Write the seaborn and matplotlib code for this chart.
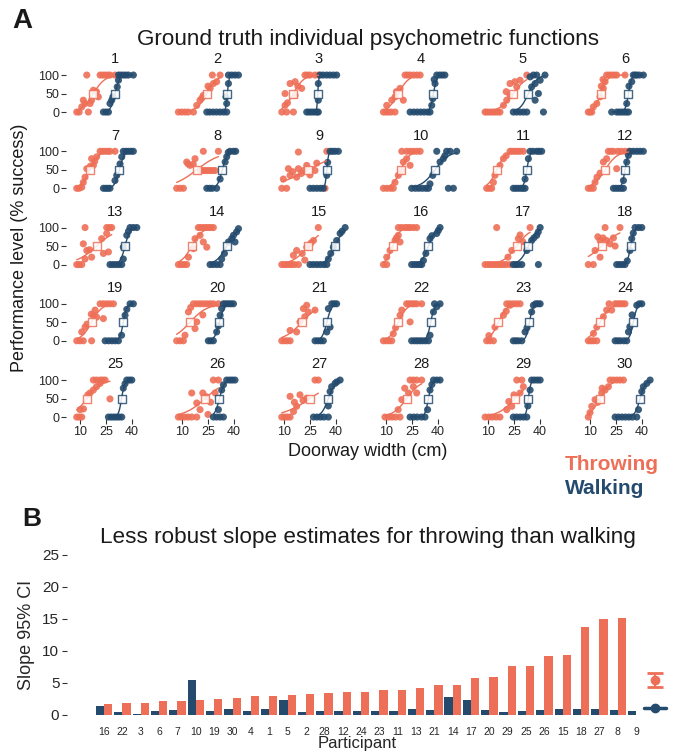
import numpy as np
import pandas as pd
import matplotlib.pyplot as plt
import seaborn as sns
from matplotlib.lines import Line2D

ORANGE = "#EE6F57"
BLUE = "#244B6E"
PALETTE = {"Throwing": ORANGE, "Walking": BLUE}

# ------------------------------------------------------------------------------
# Panel A data: observed points per participant (doorway width cm, % success)
# ------------------------------------------------------------------------------
throw_pts = {
    1: [(8.1, 0), (9.5, 0), (14.8, 0), (11, 14), (12.9, 23), (15.8, 23), (16.7, 32), (11.9, 32), (20.6, 41), (17.7, 59), (19.5, 55), (13.9, 100), (21.6, 100), (23, 100), (24.5, 100), (26, 100), (27.3, 100), (30.2, 100)],
    2: [(7.9, 0), (9.8, 0), (11.7, 0), (13.6, 0), (16.6, 0), (18.5, 18), (20.4, 32), (22.3, 45), (21.5, 38), (26.2, 64), (25, 70), (28.1, 77), (30, 82), (32, 100), (27.5, 100)],
    3: [(8.7, 0), (11.5, 0), (15.4, 0), (10.6, 18), (12, 25), (16.4, 45), (10.6, 50), (13.5, 77), (16.4, 82), (20.2, 64), (18, 70), (22.1, 100), (23.5, 100), (25, 100), (27.9, 100), (29.8, 100)],
    4: [(8.5, 0), (10, 0), (11.4, 0), (13, 0), (15.2, 0), (10.4, 18), (13.3, 32), (15.2, 41), (20, 32), (18.1, 64), (16, 55), (21, 100), (22.5, 100), (24, 100), (26, 100), (27.9, 100), (29.7, 100)],
    5: [(8.3, 0), (9.5, 0), (11, 0), (12.5, 0), (13.9, 0), (15.5, 0), (16.9, 0), (18.9, 18), (20.8, 32), (22.7, 45), (26.6, 68), (22.7, 77), (28.5, 86), (20.5, 55), (25.5, 82), (32.4, 100)],
    6: [(9, 0), (10, 0), (11, 0), (11.9, 14), (13.9, 23), (15.8, 41), (17.7, 64), (16.5, 70), (18.7, 82), (17.5, 88), (19.6, 100), (21, 100), (22.5, 100), (24, 100), (25.4, 100), (30.2, 100)],
    7: [(8.1, 0), (9.5, 0), (11, 3), (11.9, 16), (12.9, 30), (13.9, 53), (16, 60), (17.7, 62), (16.7, 80), (19.6, 85), (18.5, 73), (21.6, 100), (23, 100), (24.5, 100), (26, 100), (27.3, 100), (30.2, 100)],
    8: [(6.9, 0), (8.9, 0), (10.8, 0), (20.4, 48), (22, 48), (23.3, 48), (24.8, 48), (26.2, 48), (27.7, 48), (29.1, 48), (12.7, 71), (14.6, 62), (16.5, 65), (17.5, 80), (13.5, 66), (22.3, 100), (31, 100)],
    9: [(8.7, 0), (11.5, 0), (9.6, 25), (13.5, 35), (17.3, 30), (12.5, 53), (18.3, 53), (21.2, 48), (23.1, 62), (25, 36), (27.9, 48), (18.3, 98), (28.9, 68), (34.7, 100), (33.7, 0), (15, 45), (20, 40)],
    10: [(8.5, 0), (10.5, 0), (12.5, 0), (14.2, 0), (15.2, 16), (17.1, 35), (19.1, 48), (20, 71), (21.9, 80), (23.9, 62), (19.1, 100), (21.9, 100), (23.9, 100), (25.8, 100), (27.7, 100), (29.7, 100)],
    11: [(9.2, 0), (10.7, 0), (12.1, 0), (13.1, 16), (14, 35), (16.9, 62), (18.9, 80), (20.5, 88), (22.7, 100), (24, 100), (25.6, 100), (27, 100), (28.5, 100), (30.4, 100)],
    12: [(9, 0), (10.5, 0), (11.9, 0), (12.9, 16), (14, 30), (15.8, 41), (17.7, 71), (19.6, 80), (25.4, 53), (20.6, 100), (22, 100), (23.5, 100), (26, 100), (28, 100), (30.2, 100), (32.2, 100)],
    13: [(8.1, 0), (9.5, 0), (11, 0), (12.9, 15), (16.7, 20), (11.9, 56), (13.9, 38), (15.5, 40), (22.5, 70), (26.4, 34), (23.5, 30), (12.9, 100), (25.4, 100), (27, 100), (28.3, 100), (25.4, 84)],
    14: [(7.9, 0), (9.5, 0), (11.1, 0), (12.7, 0), (13.7, 20), (16.6, 43), (17.5, 70), (20.4, 79), (22.3, 61), (24.3, 47), (19.4, 100), (20.8, 100), (22.3, 100), (23.7, 100), (25.2, 100), (26.6, 100), (28.1, 100)],
    15: [(8.7, 0), (10.1, 0), (11.5, 0), (13, 0), (14.4, 0), (16, 0), (18.3, 0), (15.4, 25), (17.3, 38), (20.5, 30), (23.1, 47), (27, 65), (25.5, 58), (29.8, 100), (22, 12)],
    16: [(8.5, 0), (10.4, 0), (10.4, 20), (12.3, 38), (15.2, 65), (17.1, 79), (18.1, 61), (16, 72), (17.1, 100), (19, 100), (21, 100), (22.5, 100), (23.9, 100), (25.8, 100), (27.7, 100)],
    17: [(8.3, 0), (10, 0), (11.5, 0), (13, 0), (14.5, 0), (16, 0), (17.5, 0), (19, 0), (20.5, 0), (22.7, 0), (15, 100), (21.5, 20), (23.7, 38), (27.5, 70), (30, 62), (28.5, 80), (34.3, 100)],
    18: [(9, 0), (11.9, 0), (15.8, 20), (12.9, 38), (15.8, 65), (14.5, 75), (17.5, 72), (19.5, 65), (21.6, 56), (24.5, 50), (18.7, 100), (27.3, 100), (23.5, 72)],
    19: [(8.1, 0), (10, 0), (11.9, 0), (16.7, 0), (11, 24), (12.9, 37), (14, 45), (17.7, 69), (19.6, 64), (18.7, 83), (23.5, 60), (21.6, 100), (23.5, 100), (25.4, 100), (27.3, 100), (29.3, 100), (16.5, 72)],
    20: [(6.9, 0), (8.9, 0), (10.8, 0), (11.7, 15), (17.5, 33), (18.5, 51), (13.7, 78), (15, 90), (22, 70), (16.6, 100), (18.5, 100), (20.4, 100), (22.3, 100), (24.3, 100), (26.2, 100), (28.1, 100), (31, 100)],
    21: [(8.7, 0), (10.3, 0), (11.9, 0), (13.5, 0), (13.5, 28), (17.3, 24), (19.2, 51), (24, 78), (21.2, 87), (23.1, 96), (27.9, 83), (22, 65)],
    22: [(8.5, 0), (10.1, 0), (11.7, 0), (13.3, 0), (14.2, 19), (15.5, 35), (18.1, 69), (19.1, 83), (23.9, 51), (21.9, 100), (23.3, 100), (24.8, 100), (26.2, 100), (27.7, 100), (30.6, 100)],
    23: [(9.2, 0), (11, 0), (13.1, 0), (10.5, 14), (14, 37), (18.9, 69), (20.5, 80), (22.7, 96), (20.8, 100), (22.7, 100), (24.6, 100), (26.5, 100), (28.5, 100)],
    24: [(9, 0), (10.5, 0), (12, 0), (13.9, 0), (12, 20), (13.9, 37), (17.7, 65), (19.6, 83), (22.5, 83), (24.5, 100), (26, 100), (27.3, 100), (28.7, 100), (30.2, 100), (21, 100)],
    25: [(8.1, 0), (9.5, 0), (11, 0), (10, 20), (12, 22), (15.8, 65), (17.7, 73), (19.5, 82), (21.6, 91), (27.3, 49), (17.7, 100), (19.5, 100), (21.6, 100), (23, 100), (24.5, 100), (14.5, 60)],
    26: [(7.9, 0), (9.5, 0), (11.5, 0), (13.5, 0), (15.6, 0), (18.5, 0), (15.6, 65), (18.5, 38), (20.4, 20), (22, 65), (24, 55), (28.1, 100), (31, 100), (29.1, 65), (25, 7), (26.5, 40)],
    27: [(8.7, 0), (10.3, 0), (11.9, 0), (13.5, 0), (15.5, 15), (17.3, 29), (13.5, 56), (19.2, 60), (23.1, 51), (21, 45), (27.9, 100), (29.8, 100), (16, 40)],
    28: [(9.4, 0), (11.5, 0), (13.5, 0), (15.5, 0), (18.1, 0), (17, 20), (19.1, 47), (20.8, 78), (23, 65), (25.8, 82), (27.7, 65), (23.9, 100), (25.8, 100), (27.7, 100), (30.6, 100)],
    29: [(8.3, 0), (10.5, 0), (12.5, 0), (14.7, 0), (16.9, 0), (20.8, 20), (23.7, 29), (22, 42), (28.5, 65), (30.4, 82), (26.6, 100), (29.5, 100), (25, 60)],
    30: [(9, 0), (10, 12), (11, 29), (12.9, 47), (14.5, 40), (16.7, 65), (18.7, 73), (17, 78), (20.6, 82), (21.6, 100), (23.5, 100), (25.4, 100), (27.3, 100), (29.3, 100)],
}

walk_pts = {
    1: [(23.5, 0), (25, 0), (26.4, 0), (27.3, 23), (28.3, 32), (29, 41), (31.5, 68), (32.2, 86), (32.2, 100), (33.5, 100), (35, 100), (36.5, 100), (38, 100), (40.8, 100)],
    2: [(24.3, 0), (26, 0), (28, 0), (30, 0), (32, 0), (34, 0), (35.8, 0), (35.8, 23), (35.4, 41), (36.8, 77), (36.8, 100), (38.7, 100), (40.6, 100), (42.6, 100)],
    3: [(23.1, 0), (24.5, 0), (26, 0), (27.5, 0), (29, 0), (29.8, 0), (29.8, 32), (29.8, 77), (30.8, 100), (32.5, 100), (34.6, 100), (36.5, 100), (38.5, 100), (40.4, 100)],
    4: [(23.9, 0), (26, 0), (28, 0), (30, 0), (32, 0), (34, 0), (35.4, 0), (36.4, 18), (37, 36), (38.3, 77), (37.8, 88), (39.3, 100), (41, 100), (42.5, 100), (44, 100)],
    5: [(24.6, 0), (26.5, 0), (28.5, 0), (30.5, 0), (32.4, 0), (42, 0), (37.2, 32), (39.1, 50), (35.2, 68), (37.2, 77), (40.1, 86), (34.3, 95), (36.2, 100), (38.1, 100), (42.9, 100)],
    6: [(22.5, 0), (25.4, 0), (26.8, 0), (28.2, 0), (29.6, 0), (31, 0), (32.2, 0), (31.2, 23), (32.5, 70), (34.1, 82), (35, 100), (36, 100), (37, 100), (38.5, 100), (40.8, 100)],
    7: [(23.5, 0), (24.8, 0), (26, 0), (27.3, 0), (30.2, 21), (31.2, 35), (33.1, 66), (34.1, 85), (35, 100), (36.5, 100), (37.9, 100), (39.4, 100), (40.8, 100)],
    8: [(24.3, 0), (26, 0), (27.5, 0), (30, 0), (32, 25), (34.9, 71), (35.8, 85), (36.7, 97), (37.7, 100), (39.7, 100), (41, 100)],
    9: [(25, 0), (27, 0), (29, 0), (31, 0), (32.7, 0), (34.7, 35), (35.2, 70), (36.6, 100), (38, 100), (39.5, 100), (41.4, 100)],
    10: [(24.8, 0), (27, 0), (29, 0), (31, 0), (33, 0), (34.5, 0), (35.4, 12), (46, 0), (48.9, 0), (37, 35), (41.2, 71), (43.1, 80), (44, 88), (39.3, 100), (45, 100), (47, 100), (50.8, 100)],
    11: [(24.6, 0), (26, 0), (27.5, 0), (29, 0), (30.2, 0), (31.4, 0), (31.4, 25), (33.3, 80), (34.3, 100), (36, 100), (38.1, 100), (39.5, 100), (41, 100)],
    12: [(23.5, 0), (25, 0), (26.5, 0), (28, 0), (29.3, 0), (29.3, 21), (31.2, 71), (32.2, 89), (33.1, 100), (35, 100), (37, 100), (38.9, 100), (40.8, 100)],
    13: [(27.3, 0), (29, 0), (30.7, 0), (32.4, 0), (34.1, 0), (35, 15), (35, 47), (37, 79), (38, 90), (38.9, 100), (40.8, 100), (42.8, 100)],
    14: [(26.2, 0), (28, 0), (30, 0), (32, 0), (32.9, 15), (34.5, 30), (36.8, 61), (38.7, 70), (40.6, 61), (39.7, 79), (41.5, 88), (42.6, 97)],
    15: [(25, 0), (27, 0), (29, 0), (31, 0), (33, 0), (34.7, 0), (35.6, 15), (37, 30), (38.5, 47), (40.4, 65), (42.4, 84), (43.5, 90), (45.3, 100)],
    16: [(24.8, 0), (26.5, 0), (28, 0), (29.5, 0), (30.6, 0), (31.6, 11), (33, 30), (35.4, 70), (36.5, 78), (39.3, 84), (40.2, 92), (41.2, 100)],
    17: [(24.6, 0), (26, 0), (27.5, 0), (29.5, 0), (39.1, 0), (32.4, 38), (35.2, 65), (36.5, 72), (38.1, 79), (39, 88), (40.1, 100)],
    18: [(25.4, 0), (27, 0), (28.6, 0), (30.2, 0), (31.5, 10), (33.1, 38), (34.1, 70), (35, 85), (36, 100), (38, 100), (39.9, 100)],
    19: [(24.5, 0), (26.5, 0), (28.4, 0), (30.3, 0), (32.2, 0), (34, 15), (36, 69), (37, 85), (38.9, 100), (40.8, 100)],
    20: [(25.2, 0), (26.6, 0), (28.1, 0), (30, 24), (31, 40), (32, 69), (32.9, 87), (33.9, 100), (35.3, 100), (36.8, 100), (38.2, 100), (39.7, 100)],
    21: [(27.9, 0), (29.5, 0), (31.1, 0), (32.7, 0), (34.7, 24), (36.6, 37), (35.6, 87), (37.6, 100), (39, 100), (40.4, 100)],
    22: [(24.8, 0), (26.5, 0), (28, 0), (29.5, 0), (31, 0), (32.7, 0), (34.5, 0), (35.4, 15), (37.4, 78), (39.3, 92), (41.2, 100), (38, 100)],
    23: [(24.6, 0), (26, 0), (27.5, 0), (29.5, 0), (31.4, 24), (32.5, 35), (35.2, 78), (36.2, 96), (37.5, 100), (38.8, 100), (40.1, 100)],
    24: [(24.5, 0), (26, 0), (27.5, 0), (29.5, 0), (31.2, 0), (32.2, 24), (33, 38), (34.3, 70), (37, 96), (38.4, 100), (39.9, 100)],
    25: [(26.4, 0), (28, 0), (29.5, 0), (31, 0), (32.5, 0), (34.1, 0), (35, 78), (36, 90), (37, 100), (38.5, 100), (39.9, 100)],
    26: [(28.1, 0), (30, 0), (32, 0), (33.9, 0), (31, 20), (32.9, 73), (33.9, 87), (35.8, 100), (37.5, 100), (39, 100), (40.6, 100)],
    27: [(27, 0), (29, 0), (31, 0), (33, 0), (35.6, 0), (35.6, 30), (36.6, 69), (37.5, 82), (39.5, 91), (40.5, 95), (42.4, 100)],
    28: [(23.9, 0), (26, 0), (28, 0), (30.5, 0), (32.5, 0), (34, 20), (35.4, 73), (36.5, 88), (37.4, 100), (39.3, 100), (41.2, 100)],
    29: [(24.6, 0), (26.5, 0), (28.5, 0), (30.5, 0), (32.4, 0), (33, 30), (34.3, 73), (35.2, 100), (36.8, 100), (38.5, 100), (40.1, 100)],
    30: [(24.5, 0), (26.5, 0), (28.5, 0), (30.5, 0), (32.5, 0), (34.5, 0), (37, 0), (38, 20), (39.9, 69), (40.8, 82), (42.8, 91), (44.7, 100)],
}

# fitted psychometric functions: (threshold cm, spread cm)
throw_fit = {
    1: (17.7, 3.4), 2: (24.3, 3.0), 3: (15.4, 3.0), 4: (17.1, 3.0), 5: (24.6, 4.0), 6: (16.2, 2.0),
    7: (15.8, 2.5), 8: (18.5, 7.0), 9: (24.0, 10.0), 10: (18.5, 2.5), 11: (15.0, 2.5), 12: (18.7, 3.5),
    13: (19.6, 6.0), 14: (15.6, 3.0), 15: (24.0, 4.5), 16: (13.9, 2.0), 17: (26.6, 4.0), 18: (16.7, 6.0),
    19: (16.7, 3.0), 20: (14.6, 5.0), 21: (20.2, 5.0), 22: (17.1, 2.5), 23: (16.0, 2.5), 24: (15.8, 3.0),
    25: (13.9, 4.0), 26: (23.3, 6.0), 27: (25.0, 8.0), 28: (21.9, 4.0), 29: (25.6, 5.0), 30: (15.8, 3.0),
}
walk_fit = {
    1: (30.2, 1.3), 2: (36.2, 0.5), 3: (29.5, 0.3), 4: (37.4, 1.0), 5: (33.3, 2.5), 6: (32.2, 0.9),
    7: (32.7, 1.4), 8: (33.3, 1.4), 9: (34.7, 0.5), 10: (38.3, 4.0), 11: (32.4, 0.9), 12: (30.2, 0.9),
    13: (36.0, 1.4), 14: (35.8, 3.0), 15: (39.5, 2.5), 16: (34.5, 2.0), 17: (33.3, 2.5), 18: (33.5, 1.0),
    19: (35.0, 1.0), 20: (31.6, 1.4), 21: (34.7, 1.4), 22: (35.8, 1.1), 23: (33.9, 1.0), 24: (35.0, 1.1),
    25: (34.0, 0.9), 26: (31.6, 1.4), 27: (35.6, 2.0), 28: (34.5, 1.0), 29: (33.3, 0.7), 30: (38.9, 1.5),
}

# ------------------------------------------------------------------------------
# Panel B data: width of the slope 95% CI, participants sorted by throwing
# ------------------------------------------------------------------------------
participant_order = [16, 22, 3, 6, 7, 10, 19, 30, 4, 1, 5, 2, 28, 12, 24,
                     23, 11, 13, 21, 14, 17, 20, 29, 25, 26, 15, 18, 27, 8, 9]
walking_ci = [1.4, 0.45, 0.15, 0.65, 0.75, 5.4, 0.65, 0.9, 0.65, 0.9, 2.3, 0.45, 0.65, 0.6, 0.6,
              0.6, 0.6, 0.9, 0.75, 2.8, 2.35, 0.75, 0.45, 0.6, 0.75, 0.9, 0.9, 0.9, 0.75, 0.6]
throwing_ci = [1.7, 1.9, 1.9, 2.2, 2.2, 2.3, 2.5, 2.65, 2.95, 2.95, 3.1, 3.25, 3.4, 3.55, 3.55,
               3.9, 3.9, 4.2, 4.65, 4.65, 5.75, 5.9, 7.6, 7.6, 9.15, 9.45, 13.8, 15.0, 15.2, np.nan]

# ------------------------------------------------------------------------------
# Build long tables
# ------------------------------------------------------------------------------
rows = []
for task, pts in (("Throwing", throw_pts), ("Walking", walk_pts)):
    for pid, plist in pts.items():
        for x, y in plist:
            rows.append({"participant": pid, "task": task, "width": x, "success": y})
points = pd.DataFrame(rows)

curve_rows = []
for task, fits in (("Throwing", throw_fit), ("Walking", walk_fit)):
    for pid, (thr, spread) in fits.items():
        sub = points[(points.participant == pid) & (points.task == task)]
        xs = np.linspace(sub.width.min(), sub.width.max(), 80)
        ys = 100 / (1 + np.exp(-(xs - thr) / spread))
        for x, y in zip(xs, ys):
            curve_rows.append({"participant": pid, "task": task, "width": x, "success": y})
curves = pd.DataFrame(curve_rows)

bars = pd.DataFrame({
    "participant": [str(p) for p in participant_order] * 2,
    "task": ["Walking"] * 30 + ["Throwing"] * 30,
    "ci": walking_ci + throwing_ci,
})

# ------------------------------------------------------------------------------
# Figure
# ------------------------------------------------------------------------------
sns.set_theme(style="white")
plt.rcParams["font.family"] = ["Liberation Sans", "DejaVu Sans"]
plt.rcParams["text.color"] = "#1a1a1a"

W, H = 673, 752
fig = plt.figure(figsize=(W / 100, H / 100), dpi=100)


def add_ax(left, top, width, height):
    return fig.add_axes([left / W, 1 - (top + height) / H, width / W, height / H])


for i, pid in enumerate(range(1, 31)):
    r, k = divmod(i, 6)
    ax = add_ax(66 + 102 * k, 73.2 + 76.25 * r, 98, 40.7)
    sns.lineplot(data=curves[curves.participant == pid], x="width", y="success", hue="task",
                 palette=PALETTE, estimator=None, sort=False, lw=1.0, legend=False, ax=ax)
    sns.scatterplot(data=points[points.participant == pid], x="width", y="success", hue="task",
                    palette=PALETTE, s=26, linewidth=0, alpha=0.9, legend=False, clip_on=False, ax=ax)
    for task, fits in (("Throwing", throw_fit), ("Walking", walk_fit)):
        ax.scatter(fits[pid][0], 50, marker="s", s=40, facecolor="white",
                   edgecolor=PALETTE[task], linewidth=1.0, alpha=0.85, zorder=5, clip_on=False)
    ax.set_xlim(1.9, 58.5)
    ax.set_ylim(-5, 105)
    ax.set(xlabel="", ylabel="")
    ax.set_title(str(pid), fontsize=10.5, pad=7)
    ax.set_yticks([0, 50, 100] if k == 0 else [])
    ax.set_xticks([10, 25, 40] if r == 4 else [])
    ax.tick_params(left=True, bottom=True, length=3.5, width=0.8, color="#333333",
                   pad=1.5, labelsize=9)
    sns.despine(ax=ax, left=True, bottom=True)

fig.text(12 / W, 1 - 21 / H, "A", fontsize=20, fontweight="bold", va="center")
fig.text(368 / W, 1 - 39 / H, "Ground truth individual psychometric functions",
         fontsize=16.2, ha="center", va="center")
fig.text(20 / W, 1 - 248 / H, "Performance level (% success)", fontsize=13,
         rotation=90, ha="center", va="center")
fig.text(368 / W, 1 - 452 / H, "Doorway width (cm)", fontsize=13, ha="center", va="center")
fig.text(565 / W, 1 - 465 / H, "Throwing", fontsize=15, fontweight="bold",
         color=ORANGE, va="center")
fig.text(565 / W, 1 - 488 / H, "Walking", fontsize=15, fontweight="bold",
         color=BLUE, va="center")

# ------------------------------------------------------------------------------
# Panel B
# ------------------------------------------------------------------------------
fig.text(22 / W, 1 - 519 / H, "B", fontsize=19, fontweight="bold", va="center")
fig.text(368 / W, 1 - 537 / H, "Less robust slope estimates for throwing than walking",
         fontsize=16.2, ha="center", va="center")

axb = add_ax(67, 547, 580, 176)
sns.barplot(data=bars, x="participant", y="ci", hue="task", order=[str(p) for p in participant_order],
            hue_order=["Walking", "Throwing"], palette=PALETTE, width=0.9, saturation=1,
            linewidth=0, legend=False, ax=axb)
axb.set_xlim(-2.02, 29.59)
axb.set_ylim(-1.25, 26.25)
axb.set_yticks([0, 5, 10, 15, 20, 25])
axb.tick_params(axis="y", left=True, length=3.5, width=0.8, color="#333333", pad=2, labelsize=11)
axb.tick_params(axis="x", length=0, pad=3, labelsize=7.5)
axb.set_ylabel("Slope 95% CI", fontsize=13, labelpad=5)
axb.set_xlabel("Participant", fontsize=12, labelpad=-1)
sns.despine(ax=axb, left=True, bottom=True)

eb = axb.errorbar([np.nan], [np.nan], yerr=[[np.nan], [np.nan]], fmt="o", color=ORANGE,
                  ms=6, capsize=6, capthick=2, elinewidth=1.5)
walk_key = Line2D([0], [0], color=BLUE, marker="o", ms=6, lw=2.5)
fig.legend([eb, walk_key], ["", ""], loc="center", bbox_to_anchor=(655 / W, 1 - 695 / H),
           frameon=False, handlelength=1.6, handletextpad=0, labelspacing=1.0, fontsize=10)

fig.savefig("out.png", dpi=100)
